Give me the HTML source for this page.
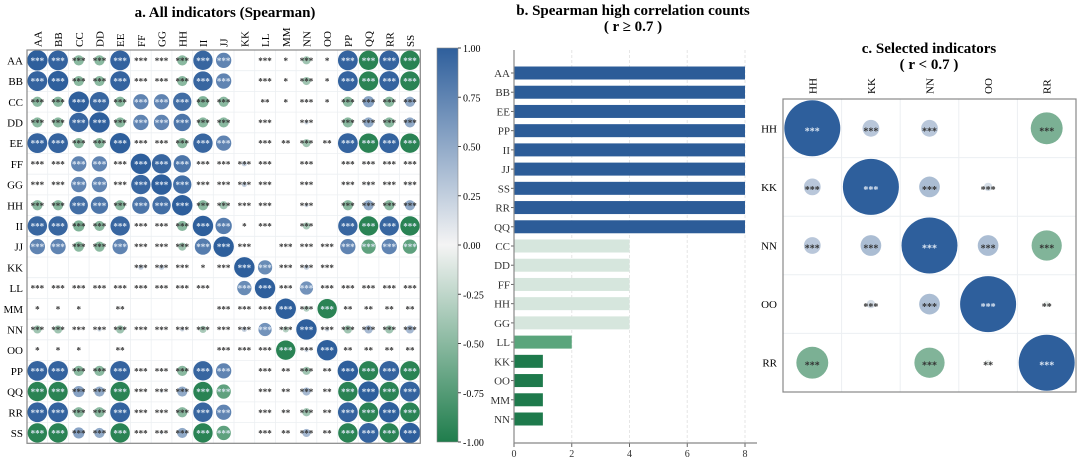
<!DOCTYPE html>
<html><head><meta charset="utf-8"><style>
html,body{margin:0;padding:0;background:#fff;}
svg{display:block;font-family:"Liberation Serif",serif;}
</style></head><body>
<svg id="chart" width="1080" height="461" viewBox="0 0 1080 461" xmlns="http://www.w3.org/2000/svg">
<defs>
<linearGradient id="cbar" x1="0" y1="0" x2="0" y2="1">
<stop offset="0" stop-color="#2e5f9c"/><stop offset="0.5" stop-color="#f4f4f4"/><stop offset="1" stop-color="#1f7d4c"/>
</linearGradient>
</defs>
<text x="225" y="17" text-anchor="middle" font-weight="bold" font-size="15">a. All indicators (Spearman)</text>
<text x="633" y="15" text-anchor="middle" font-weight="bold" font-size="15">b. Spearman high correlation counts</text>
<text x="633" y="31" text-anchor="middle" font-weight="bold" font-size="15">( r ≥ 0.7 )</text>
<text x="929" y="53" text-anchor="middle" font-weight="bold" font-size="15">c. Selected indicators</text>
<text x="929" y="69" text-anchor="middle" font-weight="bold" font-size="15">( r &lt; 0.7 )</text>
<g id="pa"></g><g id="pb"></g><g id="pc"></g>
</svg>
<script>
const NS="http://www.w3.org/2000/svg";
const names=["AA","BB","CC","DD","EE","FF","GG","HH","II","JJ","KK","LL","MM","NN","OO","PP","QQ","RR","SS"];
const corr=[
[1,.97,-.5,-.5,.97,.05,-.1,-.5,.95,.75,0,.05,0,-.4,0,.97,-.95,.97,-.95],
[.97,1,-.5,-.5,.97,.05,-.1,-.5,.95,.75,0,.05,0,-.4,0,.97,-.95,.97,-.95],
[-.5,-.5,1,.95,-.5,.75,.75,.9,-.55,-.5,0,.05,0,.1,0,-.5,.55,-.5,.5],
[-.5,-.5,.95,1,-.5,.75,.75,.85,-.5,-.5,0,.05,0,.2,0,-.5,.5,-.5,.5],
[.97,.97,-.5,-.5,1,.05,-.1,-.5,.95,.75,0,.05,.05,-.4,.05,.97,-.95,.97,-.95],
[.05,.05,.75,.75,.05,1,.95,.85,.05,.05,.25,.05,0,.05,0,.05,.05,.05,.05],
[-.1,-.1,.75,.75,-.1,.95,1,.9,-.1,-.05,.25,.05,0,.1,0,-.1,.15,-.1,.15],
[-.5,-.5,.9,.85,-.5,.85,.9,1,-.5,-.4,.05,.05,0,.2,0,-.5,.5,-.5,.5],
[.95,.95,-.55,-.5,.95,.05,-.1,-.5,1,.8,.02,.05,0,-.35,0,.95,-.95,.95,-.95],
[.75,.75,-.5,-.5,.75,.05,-.05,-.4,.8,1,.05,0,.05,.05,.05,.75,-.7,.75,-.7],
[0,0,0,0,0,.25,.25,.05,.02,.05,1,.7,.05,.25,.05,0,0,0,0],
[.05,.05,.05,.05,.05,.05,.05,.05,.05,0,.7,1,.05,.65,.05,.05,.05,.05,.05],
[0,0,0,0,.05,0,0,0,0,.05,.05,.05,1,-.3,-.95,.05,.05,.05,.05],
[-.4,-.4,.1,.2,-.4,.05,.1,.2,-.35,.05,.25,.65,-.3,1,.2,-.4,.4,-.4,.4],
[0,0,0,0,.05,0,0,0,0,.05,.05,.05,-.95,.2,1,.05,.05,.05,.05],
[.97,.97,-.5,-.5,.97,.05,-.1,-.5,.95,.75,0,.05,.05,-.4,.05,1,-.95,.97,-.95],
[-.95,-.95,.55,.5,-.95,.05,.15,.5,-.95,-.7,0,.05,.05,.4,.05,-.95,1,-.95,.97],
[.97,.97,-.5,-.5,.97,.05,-.1,-.5,.95,.75,0,.05,.05,-.4,.05,.97,-.95,1,-.95],
[-.95,-.95,.55,.5,-.95,.05,.15,.5,-.95,-.7,0,.05,.05,.4,.05,-.95,.97,-.95,1]];
const stars=["3333333333031313333","3333333333031313333","3333333333021313333","3333333333030303333","3333333333032323333","3333333333330303333","3333333333330303333","3333333333330303333","3333333333130303333","3333333333303333333","0000033313333330000","3333333330333333333","1110200003333332222","3333333333333333333","1110200003333332222","3333333333032323333","3333333333032323333","3333333333032323333","3333333333032323333"];
const cbTicks=[1,0.75,0.5,0.25,0,-0.25,-0.5,-0.75,-1];
const barCats=["AA","BB","EE","PP","II","JJ","SS","RR","QQ","CC","DD","FF","HH","GG","LL","KK","OO","MM","NN"];
const barVals=[8,8,8,8,8,8,8,8,8,4,4,4,4,4,2,1,1,1,1];
const barTicks=[0,2,4,6,8];
const selNames=["HH","KK","NN","OO","RR"];
const selCorr=[[1,.3,.3,0,-.57],[.3,1,.37,.15,0],[.3,.37,1,.37,-.54],[0,.15,.37,1,-.05],[-.57,0,-.54,-.05,1]];
const selStars=["33303","33330","33333","03332","30323"];

function mk(tag,attrs,parent,txt){const e=document.createElementNS(NS,tag);for(const k in attrs)e.setAttribute(k,attrs[k]);if(txt!==undefined)e.textContent=txt;parent.appendChild(e);return e;}
function hex(c){return [parseInt(c.slice(1,3),16),parseInt(c.slice(3,5),16),parseInt(c.slice(5,7),16)];}
const cPos=hex("#2e5f9c"),cMid=hex("#f4f4f4"),cNeg=hex("#1f7d4c");
function col(v){const t=Math.min(1,Math.abs(v));const e=v>=0?cPos:cNeg;return "rgb("+cMid.map((m,i)=>Math.round(m+(e[i]-m)*t)).join(",")+")";}
function starStr(d){return d==="0"?"":"*".repeat(+d);}

// Panel A
const A=document.getElementById("pa");
const ax0=27,ay0=50,cs=20.7,n=names.length;
const ax=i=>ax0+cs*(i+0.5), ay=i=>ay0+cs*(i+0.5);
for(let i=0;i<=n;i++){
 mk("line",{x1:ax0+cs*i,y1:ay0,x2:ax0+cs*i,y2:ay0+cs*n,stroke:"#eceff2","stroke-width":0.8},A);
 mk("line",{x1:ax0,y1:ay0+cs*i,x2:ax0+cs*n,y2:ay0+cs*i,stroke:"#eceff2","stroke-width":0.8},A);
}
for(let r=0;r<n;r++){
 const rl=mk("text",{x:ax0-4,y:ay(r)+4,"text-anchor":"end","font-size":11},A,names[r]);
 
 
 const cl=mk("text",{x:0,y:0,"font-size":11,transform:`translate(${ax(r)+4},${ay0-3}) rotate(-90)`},A,names[r]);
 
 
 for(let c=0;c<n;c++){
  const v=corr[r][c];
  if(Math.abs(v)>0.03){
   const ci=mk("circle",{cx:ax(c),cy:ay(r),r:Math.abs(v)*10.2,fill:col(v)},A);
   
   
  }
  const s=starStr(stars[r][c]);
  if(s){const st=mk("text",{x:ax(c),y:ay(r)+3.5,"text-anchor":"middle","font-size":9,"font-weight":"bold",fill:Math.abs(v)>0.6?"#dce6f2":"#333"},A,s);
   
   }
 }
}
const fa=mk("rect",{x:ax0,y:ay0,width:cs*n,height:cs*n,fill:"none",stroke:"#888","stroke-width":1.2},A);


const cbx=437,cby=48,cbh=394;
const cb=mk("rect",{x:cbx,y:cby,width:21,height:cbh,fill:"url(#cbar)",stroke:"#888","stroke-width":0.6},A);


const cbY=v=>cby+(1-v)/2*cbh;
cbTicks.forEach(t=>{
 mk("line",{x1:cbx+21,y1:cbY(t),x2:cbx+24,y2:cbY(t),stroke:"#444"},A);
 const tl=mk("text",{x:cbx+26,y:cbY(t)+4,"font-size":10},A,t.toFixed(2));
 
 
});

// Panel B
const B=document.getElementById("pb");
const bx0=514,bx8=745,by0=50,byEnd=443;
const bX=v=>bx0+(bx8-bx0)*v/8;
const bStep=(419-73)/(barCats.length-1);
const bY=i=>73+bStep*i;
barTicks.forEach(t=>{
 if(t>0)mk("line",{x1:bX(t),y1:by0,x2:bX(t),y2:byEnd,stroke:"#e6e6e6","stroke-dasharray":"3,2"},B);
 mk("line",{x1:bX(t),y1:byEnd,x2:bX(t),y2:byEnd+4,stroke:"#666"},B);
 const tl=mk("text",{x:bX(t),y:byEnd+14,"text-anchor":"middle","font-size":10,fill:"#333"},B,t);
 
 
});
function barCol(v){return v>=8?"#2c5c98":v>=4?"#d6e6dd":v>=2?"#5aa57c":"#1e7a4c";}
barCats.forEach((c,i)=>{
 const b=mk("rect",{x:bX(0),y:bY(i)-6.5,width:bX(barVals[i])-bX(0),height:13,fill:barCol(barVals[i])},B);
 
 
 mk("line",{x1:bx0-3,y1:bY(i),x2:bx0,y2:bY(i),stroke:"#666"},B);
 const l=mk("text",{x:bx0-4,y:bY(i)+4,"text-anchor":"end","font-size":11,fill:"#333"},B,c);
 
 
});
mk("line",{x1:bx0,y1:by0,x2:bx0,y2:byEnd,stroke:"#888","stroke-width":1.2},B);
mk("line",{x1:bx0,y1:byEnd,x2:757,y2:byEnd,stroke:"#888","stroke-width":1.2},B);

// Panel C
const C=document.getElementById("pc");
const cx0=783,cy0=99,cc=58.6,m=selNames.length;
const cX=i=>cx0+cc*(i+0.5), cY=i=>cy0+cc*(i+0.5);
for(let i=0;i<=m;i++){
 mk("line",{x1:cx0+cc*i,y1:cy0,x2:cx0+cc*i,y2:cy0+cc*m,stroke:"#eceff2"},C);
 mk("line",{x1:cx0,y1:cy0+cc*i,x2:cx0+cc*m,y2:cy0+cc*i,stroke:"#eceff2"},C);
}
for(let r=0;r<m;r++){
 const rl=mk("text",{x:cx0-6,y:cY(r)+4,"text-anchor":"end","font-size":11},C,selNames[r]);
 
 
 const cl=mk("text",{x:0,y:0,"font-size":11,transform:`translate(${cX(r)+4},${cy0-5}) rotate(-90)`},C,selNames[r]);
 
 
 for(let c=0;c<m;c++){
  const v=selCorr[r][c];
  if(Math.abs(v)>0.01){
   const ci=mk("circle",{cx:cX(c),cy:cY(r),r:Math.max(3,Math.abs(v)*28),fill:col(v)},C);
   
   
  }
  const s=starStr(selStars[r][c]);
  if(s){const st=mk("text",{x:cX(c),y:cY(r)+6,"text-anchor":"middle","font-size":10,"font-weight":"bold",fill:Math.abs(v)>0.6?"#dce6f2":"#333"},C,s);
   
   }
 }
}
const fc=mk("rect",{x:cx0,y:cy0,width:cc*m,height:cc*m,fill:"none",stroke:"#888","stroke-width":1.2},C);


</script>
</body></html>
